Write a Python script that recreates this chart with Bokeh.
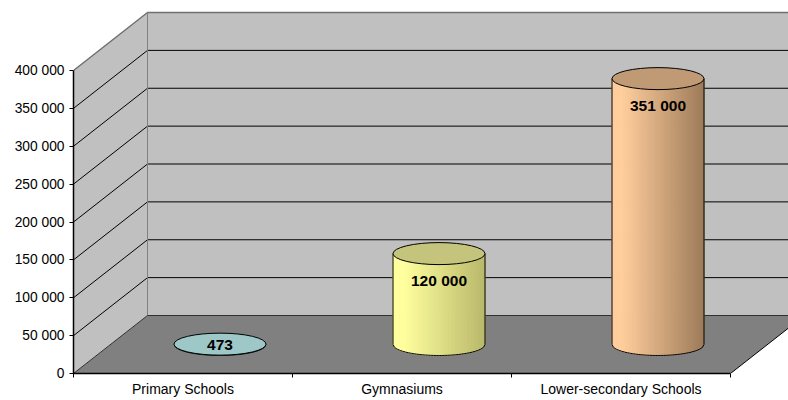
import numpy as np
from bokeh.plotting import figure
from bokeh.models import Range1d, FixedTicker
from bokeh.core.properties import value
from bokeh.embed import file_html
from bokeh.resources import INLINE

# ---------------- data ----------------
categories = ["Primary Schools", "Gymnasiums", "Lower-secondary Schools"]
values = [473, 120000, 351000]
value_labels = ["473", "120 000", "351 000"]
y_ticks = [0, 50000, 100000, 150000, 200000, 250000, 300000, 350000, 400000]
y_tick_labels = ["0", "50 000", "100 000", "150 000", "200 000",
                 "250 000", "300 000", "350 000", "400 000"]

# ---------------- styles ----------------
side_light = ["#A8D4D4", "#FFFF9E", "#FFCE9C"]
side_dark = ["#7FA6A6", "#B9B96C", "#9E7B5A"]
top_colors = ["#9EC8C8", "#C4C47C", "#C09A74"]
FONT = value("Liberation Sans")

# ---------------- layout ----------------
W, H = 788, 400
LEFT, BOTTOM = 73, 27
FRAME_W, FRAME_H = W - LEFT, H - BOTTOM
PX_PER_CAT = 219.0
PX_PER_VAL = 303.0 / y_ticks[-1]
x_end = FRAME_W / PX_PER_CAT
y_end = FRAME_H / PX_PER_VAL
DX = 74.0 / PX_PER_CAT          # depth offset (category units)
DY = 58.0 / PX_PER_VAL          # depth offset (value units)
CW = 92.0 / PX_PER_CAT          # cylinder width
EH = 22.0 / PX_PER_VAL          # ellipse height
LABEL_OFF = 27.0 / PX_PER_VAL
NCAT = len(categories)
YMAX = y_ticks[-1]

p = figure(width=W, height=H, x_range=Range1d(0, x_end), y_range=Range1d(0, y_end),
           output_backend="svg", toolbar_location=None,
           min_border_left=LEFT, min_border_right=0, min_border_top=0,
           min_border_bottom=BOTTOM)
p.outline_line_color = None
p.grid.visible = False
p.background_fill_color = "white"
p.border_fill_color = "white"

# back wall
p.patch([DX, DX, NCAT + DX + 1, NCAT + DX + 1], [DY, YMAX + DY, YMAX + DY, DY],
        fill_color="#C0C0C0", line_color=None)
# side wall
p.patch([0, 0, DX, DX], [0, YMAX, YMAX + DY, DY], fill_color="#C0C0C0", line_color=None)
# floor
p.patch([0, NCAT, NCAT + DX, DX], [0, 0, DY, DY], fill_color="#808080", line_color=None)

# gridlines
inner = y_ticks[1:-1]
p.segment(x0=[0] * len(inner), y0=inner, x1=[DX] * len(inner), y1=[v + DY for v in inner],
          line_color="black", line_width=1)
p.segment(x0=[DX] * len(inner), y0=[v + DY for v in inner],
          x1=[NCAT + DX + 1] * len(inner), y1=[v + DY for v in inner],
          line_color="black", line_width=1)
# wall edges
p.line([0, DX, NCAT + DX + 1], [YMAX, YMAX + DY, YMAX + DY], line_color="#707070", line_width=1.5)
p.line([DX, DX], [DY, YMAX + DY], line_color="#808080", line_width=1)
p.line([0, DX, NCAT + DX + 1], [0, DY, DY], line_color="#303030", line_width=1)
p.line([NCAT, NCAT + DX], [0, DY], line_color="black", line_width=1)


def hex2rgb(h):
    return np.array([int(h[i:i + 2], 16) for i in (1, 3, 5)], dtype=float)


def rgb2hex(c):
    return "#%02x%02x%02x" % tuple(int(round(v)) for v in c)


NS = 40
for i, v in enumerate(values):
    cx = i + 0.5 + DX / 2
    cyb = DY / 2
    cyt = v + DY / 2
    xs_edges = np.linspace(cx - CW / 2, cx + CW / 2, NS + 1)

    def arc(x):
        t = np.clip((x - cx) / (CW / 2), -1, 1)
        return cyb - (EH / 2) * np.sqrt(1 - t * t)

    c0, c1 = hex2rgb(side_light[i]), hex2rgb(side_dark[i])
    sx, sy, cols = [], [], []
    for k in range(NS):
        x0, x1 = xs_edges[k], xs_edges[k + 1]
        sx.append([x0, x1, x1, x0])
        sy.append([arc(x0), arc(x1), cyt, cyt])
        f = (k + 0.5) / NS
        f = max(0.0, (f - 0.12) / 0.88)
        cols.append(rgb2hex(c0 + (c1 - c0) * f))
    p.patches(sx, sy, fill_color=cols, line_color=cols, line_width=1)
    # outline
    ax = np.linspace(cx - CW / 2, cx + CW / 2, 60)
    ox = [cx - CW / 2] + list(ax) + [cx + CW / 2]
    oy = [cyt] + list(arc(ax)) + [cyt]
    p.line(ox, oy, line_color="black", line_width=1)
    # top
    p.ellipse(x=[cx], y=[cyt], width=CW, height=EH, fill_color=top_colors[i],
              line_color="black", line_width=1)
    ly = max(cyt - LABEL_OFF, cyb)
    p.text(x=[cx], y=[ly], text=[value_labels[i]], text_font=FONT,
           text_font_style="bold", text_font_size="15.5px", text_align="center",
           text_baseline="middle", text_color="black")

# y axis
ya = p.yaxis[0]
ya.ticker = FixedTicker(ticks=y_ticks)
ya.major_label_overrides = {t: l for t, l in zip(y_ticks, y_tick_labels)}
ya.bounds = (0, YMAX)
ya.axis_line_color = "black"
ya.axis_line_width = 1.5
ya.major_tick_out = 4
ya.major_tick_in = 0
ya.major_tick_line_color = "black"
ya.minor_tick_line_color = None
ya.major_label_standoff = 5
ya.major_label_text_font = "Liberation Sans"
ya.major_label_text_font_size = "13.8px"
ya.major_label_text_color = "black"

# x axis
xa = p.xaxis[0]
cat_pos = [i + 0.5 for i in range(NCAT)]
xa.ticker = FixedTicker(ticks=cat_pos, minor_ticks=list(range(NCAT + 1)))
xa.major_label_overrides = {t: c for t, c in zip(cat_pos, categories)}
xa.bounds = (0, NCAT)
xa.axis_line_color = "black"
xa.axis_line_width = 1.5
xa.major_tick_line_color = None
xa.major_tick_out = 0
xa.major_tick_in = 0
xa.minor_tick_line_color = "black"
xa.minor_tick_out = 4
xa.minor_tick_in = 0
xa.major_label_standoff = 3
xa.major_label_text_font = "Liberation Sans"
xa.major_label_text_font_size = "14px"
xa.major_label_text_color = "black"

open("out.html", "w").write(file_html(p, INLINE))
